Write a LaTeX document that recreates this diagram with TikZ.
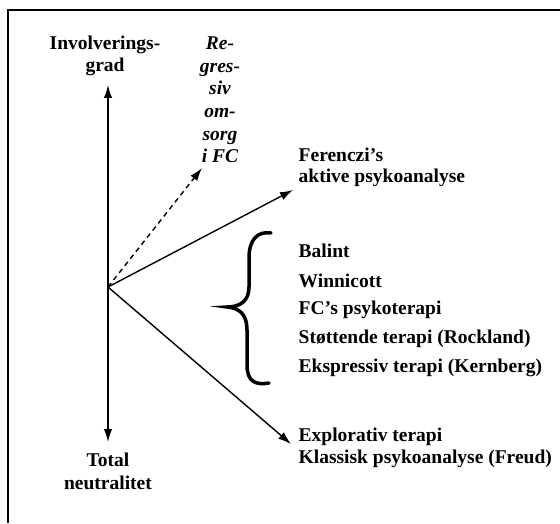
\documentclass[tikz,border=0pt]{standalone}
\usepackage{fontspec}
\setmainfont{Liberation Serif}
\usetikzlibrary{arrows.meta}

\begin{document}
\begin{tikzpicture}[x=1pt,y=1pt,>={Latex[length=13pt,width=8.5pt]},line width=1.4pt,
		lbl/.style={font=\fontsize{19.5}{22.5}\selectfont\bfseries,inner sep=0pt,align=center,anchor=base},
		item/.style={font=\fontsize{19.5}{21.5}\selectfont\bfseries,inner sep=0pt,align=left,anchor=base west}]
		\useasboundingbox (0,0) rectangle (560,523);
		\draw[line width=2pt] (7.5,0) -- (7.5,513) -- (560,513);
		
		\node[lbl] (inv) at (105,451) {Involverings-\\grad};
		\node[lbl,font=\fontsize{19.5}{22.7}\selectfont\bfseries\itshape] (reg) at (220,360) {Re-\\gres-\\siv\\om-\\sorg\\i FC};
		\node[lbl] (tot) at (108,34) {Total\\neutralitet};
		
		\node[item] (fer) at (298,340) {Ferenczi’s\\aktive psykoanalyse};
		\node[item] (bal) at (298,265) {Balint};
		\node[item] (win) at (298,236) {Winnicott};
		\node[item] (fcp) at (298,208) {FC’s psykoterapi};
		\node[item] (sto) at (298,180) {Støttende terapi (Rockland)};
		\node[item] (eks) at (298,151) {Ekspressiv terapi (Kernberg)};
		\node[item] (exp) at (298,60) {Explorativ terapi\\Klassisk psykoanalyse (Freud)};
		
		\coordinate (o) at (108,236);
		\coordinate (up) at (108,438);
		\coordinate (down) at (108,81);
		\coordinate (reg tip) at (202,355);
		\coordinate (fer tip) at (293,333);
		\coordinate (exp tip) at (291,79);
		
		\path[->]
		(o) edge (up)
			edge (down)
			edge[dashed,dash pattern=on 5pt off 4pt] (reg tip)
			edge (fer tip)
			edge (exp tip);
		
		% klamme
		\draw[line width=3.5pt,line cap=round]
		(271,290) .. controls (258,292) and (249,284) .. (249,265) -- (249,236)
		.. controls (249,222) and (240,216) .. (227,216)
		.. controls (240,215) and (247,208) .. (247,193) -- (247,158)
		.. controls (247,140) and (257,138) .. (269,140);
	\end{tikzpicture}
\end{document}
